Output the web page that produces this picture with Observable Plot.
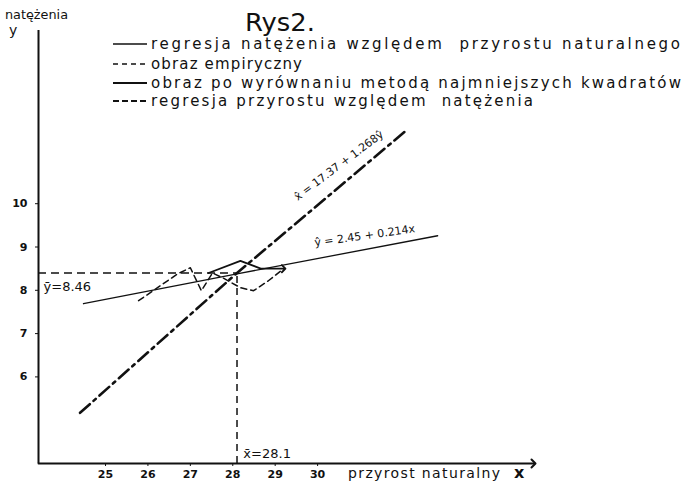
<!DOCTYPE html>
<html><head><meta charset="utf-8">
<script src="https://cdn.jsdelivr.net/npm/d3@7"></script>
<script src="https://cdn.jsdelivr.net/npm/@observablehq/plot@0.6"></script>
<style>
html,body{margin:0;padding:0;background:#fff;}
#chart{width:682px;height:486px;}
</style></head><body><div id="chart"></div>
<script>
// ---- data ----
const xTicks = [25, 26, 27, 28, 29, 30];
const yTicks = [6, 7, 8, 9, 10];
const xDomain = [23.42, 35.09];
const yDomain = [4, 14];
const meanX = 28.1;
const meanY = 8.4;
// regresja natężenia względem przyrostu naturalnego (ŷ = 2.45 + 0.214x)
const regYonX_x = [24.48, 28.1, 32.83];
const regYonX_y = [7.69, 8.38, 9.26];
// regresja przyrostu względem natężenia (x̂ = 17.37 + 1.268ŷ)
const regXonY_x = [24.4, 28.1, 32.1];
const regXonY_y = [5.17, 8.4, 11.7];
// obraz empiryczny
const empX = [25.78, 26.70, 27.00, 27.26, 27.52, 27.76, 28.18, 28.49, 28.84, 29.20];
const empY = [7.76, 8.38, 8.52, 7.99, 8.40, 8.29, 8.06, 7.99, 8.22, 8.50];
// obraz po wyrównaniu metodą najmniejszych kwadratów
const fitX = [27.43, 28.18, 28.66, 29.20];
const fitY = [8.40, 8.68, 8.50, 8.50];

const titleText = "Rys2.";
const legendLabels = [
  "regresja natężenia względem  przyrostu naturalnego",
  "obraz empiryczny",
  "obraz po wyrównaniu metodą najmniejszych kwadratów",
  "regresja przyrostu względem  natężenia"
];
const yLabel = ["natężenia", "y"];
const xLabel = ["przyrost naturalny", "x"];
const regYonXLabel = "ŷ = 2.45 + 0.214x";
const regXonYLabel = "x̂ = 17.37 + 1.268ŷ";
const meanYLabel = "ȳ=8.46";
const meanXLabel = "x̄=28.1";

const toPts = (xs, ys) => xs.map((x, i) => ({x, y: ys[i]}));

const plot = Plot.plot({
  width: 682, height: 486,
  marginLeft: 38, marginRight: 149, marginTop: 30, marginBottom: 23,
  x: {domain: xDomain, ticks: xTicks, tickSize: 3, tickPadding: 4, label: null},
  y: {domain: yDomain, ticks: yTicks, tickSize: 3, tickPadding: 8, label: null},
  style: {fontFamily: "DejaVu Sans", fontSize: "11px", background: "white", color: "#111", overflow: "visible"},
  marks: [
    Plot.ruleX([xDomain[0]], {strokeWidth: 2, stroke: "#111"}),
    Plot.line(toPts(xDomain, [yDomain[0], yDomain[0]]), {x: "x", y: "y", strokeWidth: 2, stroke: "#111", markerEnd: "arrow"}),
    Plot.ruleY([meanY], {x1: xDomain[0], x2: meanX, strokeDasharray: "8,5", strokeWidth: 1.5, stroke: "#111"}),
    Plot.ruleX([meanX], {y1: yDomain[0], y2: meanY, strokeDasharray: "7,5", strokeWidth: 1.5, stroke: "#111"}),
    Plot.line(toPts(regYonX_x, regYonX_y), {x: "x", y: "y", strokeWidth: 1.3, stroke: "#111"}),
    Plot.line(toPts(regXonY_x, regXonY_y), {x: "x", y: "y", strokeWidth: 2.6, stroke: "#111", strokeDasharray: "13,5,3,5"}),
    Plot.line(toPts(empX, empY), {x: "x", y: "y", strokeWidth: 1.5, stroke: "#111", strokeDasharray: "6,4"}),
    Plot.line(toPts(fitX, fitY), {x: "x", y: "y", strokeWidth: 1.8, stroke: "#111", markerEnd: "arrow"}),
    Plot.text([regYonXLabel], {x: 31.11, y: 9.26, rotate: -8, fontSize: 11, fill: "#111"}),
    Plot.text([regXonYLabel], {x: 30.5, y: 10.88, rotate: -37, fontSize: 11, fill: "#111"}),
    Plot.text([meanYLabel], {x: 23.54, y: 8.08, textAnchor: "start", fontSize: 13, fill: "#111"}),
    Plot.text([meanXLabel], {x: 28.25, y: 4.22, textAnchor: "start", fontSize: 13, fill: "#111"})
  ]
});
document.getElementById("chart").appendChild(plot);

// axis tick labels look bold in the reference
d3.select(plot).selectAll("g[aria-label='x-axis tick label'] text, g[aria-label='y-axis tick label'] text").attr("font-weight", "bold");

// legend, title and axis names
const svg = d3.select(plot);
const g = svg.append("g").attr("font-family", "DejaVu Sans").attr("fill", "#111").attr("text-anchor", "start");
g.append("text").attr("x", 245).attr("y", 31).attr("font-size", 24)
  .attr("textLength", 70).attr("lengthAdjust", "spacingAndGlyphs").text(titleText);
const rows = [
  {cy: 44, dash: null, w: 1.3, end: 680},
  {cy: 64, dash: "5,4", w: 1.5, end: 302},
  {cy: 83, dash: null, w: 2.2, end: 681},
  {cy: 101, dash: "6,3", w: 2, end: 533}
];
rows.forEach((r, i) => {
  const ln = g.append("line").attr("x1", 113).attr("x2", 147).attr("y1", r.cy).attr("y2", r.cy)
    .attr("stroke", "#111").attr("stroke-width", r.w);
  if (r.dash) ln.attr("stroke-dasharray", r.dash);
  g.append("text").attr("x", 151).attr("y", r.cy + 5).attr("font-size", 15)
    .attr("textLength", r.end - 151).attr("lengthAdjust", "spacing").text(legendLabels[i]);
});
g.append("text").attr("x", 5).attr("y", 19).attr("font-size", 13)
  .attr("textLength", 63).attr("lengthAdjust", "spacingAndGlyphs").text(yLabel[0]);
g.append("text").attr("x", 9).attr("y", 35).attr("font-size", 14).text(yLabel[1]);
g.append("text").attr("x", 348).attr("y", 478).attr("font-size", 14)
  .attr("textLength", 152).attr("lengthAdjust", "spacing").text(xLabel[0]);
g.append("text").attr("x", 514).attr("y", 478).attr("font-size", 16).attr("font-weight", "bold").text(xLabel[1]);
</script>
</body></html>
